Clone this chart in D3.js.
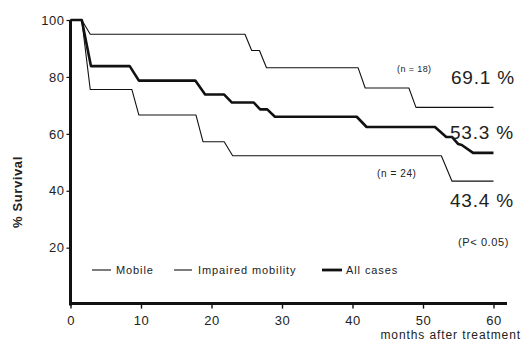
<!DOCTYPE html>
<html>
<head>
<meta charset="utf-8">
<script src="https://cdn.jsdelivr.net/npm/d3@7"></script>
<style>
  body { margin: 0; background: #fff; }
  svg { display: block; font-family: "Liberation Sans", Arial, Helvetica, sans-serif; }
</style>
</head>
<body>
<svg id="chart" width="522" height="341"></svg>
<script>
// survival curves (months, % survival)
const mobileMonths = [0, 1.6, 2.8, 24.75, 25.7, 26.8, 27.8, 40.8, 41.8, 48, 49, 60];
const mobileSurv = [100, 100, 95, 95, 89.3, 89.3, 83.2, 83.2, 76.1, 76.1, 69.3, 69.3];

const impairedMonths = [0, 1.6, 2.8, 8.7, 9.7, 17.8, 18.8, 21.8, 23, 52.6, 54.1, 60];
const impairedSurv = [100, 100, 75.6, 75.6, 66.6, 66.6, 57.2, 57.2, 52.3, 52.3, 43.4, 43.4];

const allMonths = [0, 1.6, 2.9, 8.4, 9.7, 17.7, 19.1, 21.8, 22.9, 26, 26.9, 27.9, 29, 40.6, 42,
  51.7, 53.3, 54.1, 55.0, 55.5, 57.1, 60];
const allSurv = [100, 100, 83.8, 83.8, 78.7, 78.7, 73.8, 73.8, 71, 71, 68.6, 68.6, 66, 66, 62.4,
  62.4, 58.9, 58.9, 56.4, 56.1, 53.3, 53.3];

const xTicks = [0, 10, 20, 30, 40, 50, 60];
const yTicks = [20, 40, 60, 80, 100];

const series = [
  { name: "Mobile", months: mobileMonths, surv: mobileSurv, width: 1.1 },
  { name: "Impaired mobility", months: impairedMonths, surv: impairedSurv, width: 1.1 },
  { name: "All cases", months: allMonths, surv: allSurv, width: 2.6 }
];

const ink = "#111";
const svg = d3.select("#chart");

const x = d3.scaleLinear().domain([0, 60]).range([70.5, 493.5]);
const y = d3.scaleLinear().domain([0, 100]).range([304.6, 20]);

// y axis
const yAxis = svg.append("g")
  .attr("transform", `translate(${x(0)},0)`)
  .call(d3.axisLeft(y).tickValues(yTicks).tickSize(4).tickPadding(2));
yAxis.select(".domain").remove();
yAxis.selectAll("line").attr("stroke", ink).attr("stroke-width", 1.2);
yAxis.selectAll("text")
  .attr("fill", "#222")
  .style("font-size", "13px")
  .style("letter-spacing", "0.5px");

// x axis
const xAxis = svg.append("g")
  .attr("transform", `translate(0,${y(0)})`)
  .call(d3.axisBottom(x).tickValues(xTicks).tickSize(4).tickPadding(7));
xAxis.select(".domain").remove();
xAxis.selectAll("line").attr("stroke", ink).attr("stroke-width", 1.4);
xAxis.selectAll("text")
  .attr("fill", "#222")
  .style("font-size", "13px")
  .style("letter-spacing", "0.5px");

// thick axis lines
svg.append("line")
  .attr("x1", x(0)).attr("x2", x(0))
  .attr("y1", y(100)).attr("y2", y(0) + 1)
  .attr("stroke", ink).attr("stroke-width", 3);
svg.append("line")
  .attr("x1", x(0) - 1.5).attr("x2", 507)
  .attr("y1", y(0) - 1).attr("y2", y(0) - 1)
  .attr("stroke", ink).attr("stroke-width", 3);

// curves
const line = d3.line()
  .x(d => x(d[0]))
  .y(d => y(d[1]));

series.forEach(s => {
  const pts = s.months.map((m, i) => [m, s.surv[i]]);
  svg.append("path")
    .datum(pts)
    .attr("fill", "none")
    .attr("stroke", ink)
    .attr("stroke-width", s.width)
    .attr("stroke-linejoin", "round")
    .attr("d", line);
});

// axis titles
svg.append("text")
  .attr("transform", "translate(22,192) rotate(-90)")
  .attr("text-anchor", "middle")
  .style("font-size", "13px")
  .style("font-weight", "bold")
  .style("letter-spacing", "0.6px")
  .attr("fill", "#222")
  .text("% Survival");

svg.append("text")
  .attr("x", 521)
  .attr("y", 339)
  .attr("text-anchor", "end")
  .style("font-size", "12px")
  .style("letter-spacing", "0.9px")
  .attr("fill", "#222")
  .text("months after treatment");

// legend
const legendItems = [
  { x1: 92, x2: 111, tx: 116, w: 1.1, label: "Mobile" },
  { x1: 174, x2: 192, tx: 198, w: 1.1, label: "Impaired mobility" },
  { x1: 322, x2: 342, tx: 346, w: 2.8, label: "All cases" }
];
legendItems.forEach(d => {
  svg.append("line")
    .attr("x1", d.x1).attr("x2", d.x2)
    .attr("y1", 270).attr("y2", 270)
    .attr("stroke", ink).attr("stroke-width", d.w);
  svg.append("text")
    .attr("x", d.tx).attr("y", 274)
    .style("font-size", "11px")
    .style("letter-spacing", "0.9px")
    .attr("fill", "#222")
    .text(d.label);
});

// annotations
const note = (tx, ty, size, txt, spacing) =>
  svg.append("text")
    .attr("x", tx).attr("y", ty)
    .style("font-size", size + "px")
    .style("letter-spacing", spacing + "px")
    .attr("fill", "#222")
    .text(txt);

note(397, 72, 9, "(n = 18)", 0.4);
note(451, 83.5, 19, "69.1 %", 0.8);
note(450, 138.5, 19, "53.3 %", 0.8);
note(377, 177, 10, "(n = 24)", 0.6);
note(450, 206.5, 19, "43.4 %", 0.8);
note(458, 245.5, 11, "(P< 0.05)", 0.6);
</script>
</body>
</html>
